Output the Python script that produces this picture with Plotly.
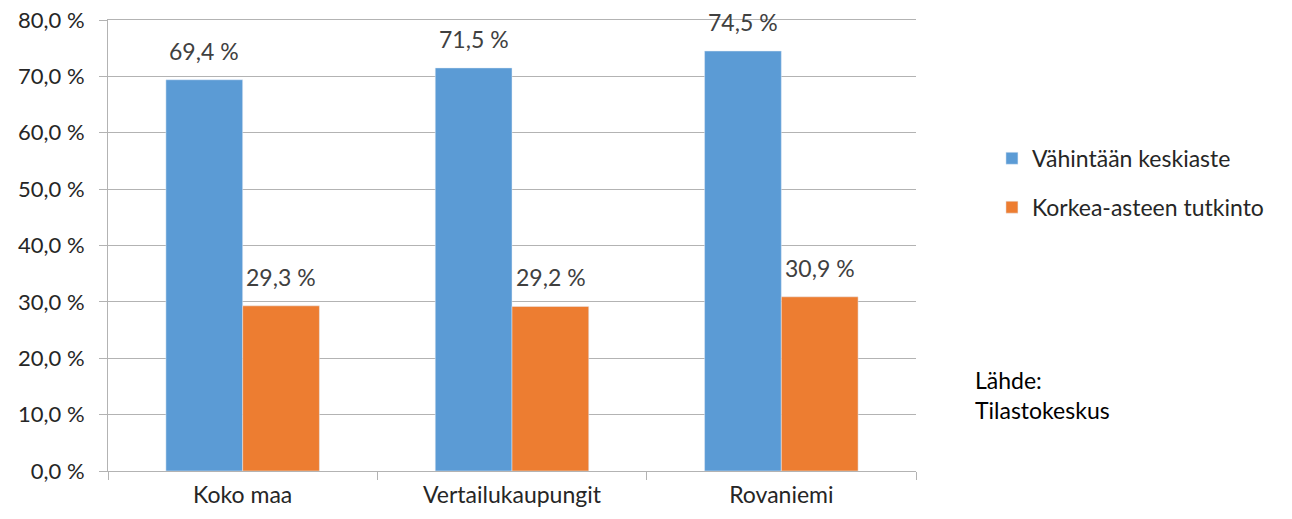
import plotly.graph_objects as go

categories = ["Koko maa", "Vertailukaupungit", "Rovaniemi"]
series1_name = "Vähintään keskiaste"
series1 = [69.4, 71.5, 74.5]
series2_name = "Korkea-asteen tutkinto"
series2 = [29.3, 29.2, 30.9]
y_ticks = [0, 10, 20, 30, 40, 50, 60, 70, 80]
y_ticktext = [f"{v:.1f} %".replace(".", ",") for v in y_ticks]

FONT = "Lato"
FS = 23
fig = go.Figure()
fig.add_trace(go.Bar(x=categories, y=series1, name=series1_name, marker_color="#5B9BD5",
                     legendgroup="a"))
fig.add_trace(go.Bar(x=categories, y=series2, name=series2_name, marker_color="#ED7D31",
                     legendgroup="b"))

annotations = []
for vals, shift in ((series1, -38.5), (series2, 38.5)):
    for c, v in zip(categories, vals):
        annotations.append(dict(x=c, y=v, xref="x", yref="y", xshift=shift, yshift=13,
                                yanchor="bottom", showarrow=False,
                                text=f"{v:.1f} %".replace(".", ","),
                                font=dict(size=FS, color="#404040")))
annotations.append(dict(text="Lähde:<br>Tilastokeskus", xref="paper", yref="paper",
                        x=1.07, y=0.169, xanchor="left", yanchor="middle", align="left",
                        showarrow=False, font=dict(size=FS, color="#000000")))

fig.update_layout(
    width=1292, height=519,
    margin=dict(l=108, r=376, t=20, b=48, autoexpand=False),
    paper_bgcolor="white", plot_bgcolor="white",
    font=dict(family=FONT, size=FS, color="#262626"),
    barmode="group", bargap=0.43, bargroupgap=0,
    showlegend=True,
    legend=dict(x=1.094, y=0.639, xanchor="left", yanchor="middle",
                traceorder="grouped", tracegroupgap=16,
                font=dict(size=FS, color="#262626")),
    annotations=annotations,
)
fig.update_yaxes(range=[0, 80], tickvals=y_ticks, ticktext=y_ticktext,
                 tickfont=dict(size=22), ticklabeloverflow="allow",
                 showgrid=True, gridcolor="#B3B3B3", gridwidth=1, automargin=False,
                 showline=True, linecolor="#B3B3B3", ticks="outside", ticklen=8,
                 tickcolor="#B3B3B3", zeroline=False, ticklabelstandoff=10)
fig.update_xaxes(showline=True, mirror=True, linecolor="#B3B3B3", ticks="outside", ticklen=8,
                 tickcolor="#B3B3B3", tickson="boundaries", automargin=False,
                 ticklabelstandoff=3)

fig.write_html("out.html", config={"displayModeBar": False},
               post_script="document.body.style.margin='0';")
